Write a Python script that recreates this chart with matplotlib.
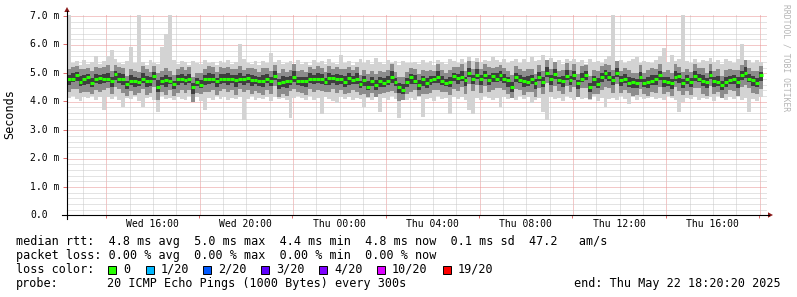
import numpy as np
import matplotlib
matplotlib.use("Agg")
import matplotlib.pyplot as plt
from matplotlib.patches import Polygon, Rectangle
from matplotlib.lines import Line2D
import matplotlib.transforms as mtransforms

# smokeping style latency graph, 10 minute steps from Wed 12:20 to Thu 18:10
# all latency values below are in 1/100 ms
step_start = 12 + 20 / 60      # hours since Wed 00:00
step_len = 1 / 6               # 10 minutes

med_c = [
    477, 480, 492, 469, 477, 486, 463, 480, 481, 480,
    480, 473, 495, 480, 479, 461, 472, 470, 469, 480,
    472, 473, 488, 452, 473, 474, 473, 461, 477, 478,
    476, 477, 449, 469, 457, 478, 478, 480, 472, 479,
    480, 479, 479, 475, 477, 477, 482, 475, 475, 473,
    473, 480, 473, 489, 463, 469, 473, 473, 486, 472,
    470, 473, 480, 480, 480, 480, 469, 482, 482, 477,
    477, 469, 482, 475, 480, 461, 475, 452, 473, 457,
    473, 463, 473, 486, 469, 449, 440, 469, 486, 473,
    457, 477, 463, 475, 477, 486, 473, 466, 469, 488,
    482, 486, 475, 500, 480, 492, 480, 492, 475, 488,
    480, 492, 480, 475, 449, 486, 475, 473, 469, 480,
    466, 486, 469, 500, 480, 495, 475, 472, 488, 475,
    492, 463, 480, 492, 449, 477, 461, 486, 500, 486,
    475, 498, 475, 480, 463, 469, 463, 486, 466, 469,
    472, 480, 492, 473, 469, 463, 486, 488, 463, 480,
    469, 488, 480, 472, 469, 492, 473, 469, 457, 469,
    475, 480, 469, 492, 500, 480, 475, 466, 492,
]

# half widths of the dark smoke core (above / below the median)
q_up = [
    14, 18, 12, 20, 15, 11, 19, 16, 13, 17, 21, 14, 12, 18, 16, 10, 19, 15, 13, 20,
    17, 12, 15, 22, 13, 18, 14, 11, 16, 19, 13, 20, 15, 12, 18, 14, 21, 16, 11, 17,
    15, 19, 13, 16, 22, 12, 14, 18, 15, 11, 20, 16, 13, 17, 14, 19, 12, 15, 21, 13,
    16, 11, 18, 14, 20, 15, 13, 17, 12, 19, 14, 21, 16, 13, 18, 11, 15, 20, 14, 17,
    12, 18, 15, 19, 13, 16, 22, 14, 11, 18, 17, 13, 20, 15, 12, 19, 16, 14, 18, 13,
    15, 20, 12, 17, 14, 21, 13, 16, 19, 11, 18, 14, 16, 12, 20, 15, 17, 13, 19, 14,
    11, 17, 15, 20, 13, 18, 12, 16, 21, 14, 16, 12, 19, 14, 17, 13, 20, 15, 11, 18,
    14, 19, 13, 16, 22, 12, 15, 18, 14, 17, 20, 13, 16, 11, 18, 15, 19, 12, 17, 14,
    13, 18, 15, 20, 12, 16, 14, 19, 13, 17, 15, 11, 18, 14, 20, 16, 13, 17, 12,
]
q_dn = [
    18, 13, 22, 15, 19, 24, 14, 17, 20, 16, 12, 21, 19, 15, 23, 17, 13, 20, 16, 14,
    22, 18, 14, 19, 16, 25, 13, 17, 21, 15, 19, 14, 23, 16, 12, 20, 18, 15, 22, 17,
    14, 20, 16, 24, 13, 19, 17, 21, 15, 18, 23, 15, 19, 13, 21, 17, 25, 14, 18, 16,
    17, 22, 14, 20, 15, 19, 13, 23, 16, 21, 15, 18, 24, 13, 20, 16, 22, 14, 19, 17,
    21, 13, 17, 22, 15, 20, 14, 18, 24, 12, 16, 23, 15, 19, 14, 21, 17, 13, 20, 18,
    20, 14, 22, 16, 19, 13, 24, 15, 17, 21, 13, 19, 16, 23, 15, 18, 12, 22, 14, 20,
    24, 16, 19, 14, 21, 17, 15, 20, 13, 18, 17, 21, 13, 18, 16, 24, 14, 19, 22, 15,
    19, 14, 20, 17, 13, 22, 16, 18, 15, 23, 15, 22, 17, 21, 14, 19, 13, 24, 16, 18,
    20, 16, 13, 19, 23, 15, 21, 14, 18, 17, 14, 19, 22, 16, 18, 13, 20, 15, 21,
]
# half widths of the middle grey smoke band
p_up = [
    38, 42, 33, 45, 36, 31, 44, 39, 35, 41, 46, 34, 32, 40, 37, 29, 43, 36, 33, 45,
    40, 31, 37, 47, 34, 42, 35, 30, 38, 44, 33, 45, 36, 31, 41, 35, 46, 39, 30, 40,
    36, 43, 34, 38, 48, 32, 35, 42, 37, 30, 45, 38, 33, 40, 35, 44, 31, 37, 46, 34,
    39, 30, 42, 35, 45, 37, 33, 41, 32, 44, 35, 46, 38, 34, 42, 30, 36, 45, 35, 40,
    32, 41, 37, 44, 33, 38, 47, 35, 30, 42, 40, 34, 45, 36, 31, 44, 38, 35, 42, 33,
    37, 45, 32, 40, 35, 46, 33, 38, 44, 30, 42, 35, 38, 31, 45, 37, 40, 33, 44, 35,
    30, 40, 37, 45, 33, 42, 31, 38, 46, 35, 38, 32, 44, 35, 40, 33, 45, 37, 30, 42,
    35, 44, 33, 38, 47, 31, 37, 42, 35, 40, 45, 33, 38, 30, 42, 37, 44, 31, 40, 35,
    33, 42, 37, 45, 31, 38, 35, 44, 33, 40, 37, 30, 42, 35, 45, 38, 33, 40, 31,
]
p_dn = [
    44, 36, 50, 39, 45, 52, 37, 42, 47, 40, 34, 49, 45, 38, 51, 42, 35, 47, 40, 36,
    50, 44, 37, 46, 40, 53, 35, 42, 48, 39, 46, 37, 51, 40, 33, 47, 44, 39, 50, 42,
    37, 47, 40, 52, 35, 45, 42, 49, 38, 44, 51, 39, 46, 35, 48, 42, 53, 37, 44, 40,
    42, 50, 37, 47, 39, 45, 35, 51, 40, 48, 39, 44, 52, 35, 47, 40, 50, 37, 45, 42,
    48, 35, 42, 50, 39, 47, 37, 44, 52, 34, 40, 51, 39, 45, 37, 48, 42, 35, 47, 44,
    47, 37, 50, 40, 45, 35, 52, 39, 42, 48, 35, 45, 40, 51, 39, 44, 34, 50, 37, 47,
    52, 40, 45, 37, 48, 42, 39, 47, 35, 44, 42, 48, 35, 44, 40, 52, 37, 45, 50, 39,
    45, 37, 47, 42, 35, 50, 40, 44, 39, 51, 39, 50, 42, 48, 37, 45, 35, 52, 40, 44,
    47, 40, 35, 45, 51, 39, 48, 37, 44, 42, 37, 45, 50, 40, 44, 35, 47, 39, 48,
]
# slowest and fastest ping of each step
hi_c = [
    750, 535, 540, 528, 545, 532, 538, 560, 530, 542,
    560, 580, 548, 535, 530, 541, 590, 533, 750, 538,
    529, 544, 536, 531, 590, 635, 750, 545, 532, 540,
    537, 528, 543, 535, 530, 546, 533, 539, 527, 541,
    534, 545, 530, 538, 603, 548, 536, 531, 542, 529,
    540, 533, 571, 537, 544, 530, 535, 541, 528, 546,
    532, 539, 527, 545, 534, 540, 531, 548, 536, 530,
    563, 535, 541, 529, 538, 548, 533, 544, 530, 552,
    537, 531, 546, 534, 540, 528, 542, 536, 533, 539,
    530, 545, 535, 541, 529, 545, 538, 532, 547, 540,
    536, 548, 533, 555, 540, 552, 537, 546, 541, 556,
    544, 538, 550, 534, 542, 547, 535, 549, 539, 556,
    540, 545, 563, 538, 551, 536, 545, 530, 548, 541,
    550, 537, 544, 532, 547, 539, 543, 535, 548, 560,
    750, 538, 545, 533, 541, 550, 556, 536, 542, 539,
    534, 545, 560, 586, 538, 563, 540, 547, 750, 542,
    536, 549, 533, 544, 540, 551, 537, 545, 532, 548,
    541, 535, 547, 603, 539, 544, 536, 545, 538,
]
lo_c = [
    412, 418, 408, 400, 415, 410, 420, 406, 414, 369,
    416, 409, 419, 404, 380, 413, 408, 417, 402, 380,
    411, 415, 405, 363, 418, 407, 412, 403, 416, 409,
    404, 417, 410, 414, 401, 369, 413, 406, 419, 408,
    415, 403, 411, 407, 416, 334, 409, 418, 404, 412,
    407, 414, 402, 416, 409, 413, 405, 340, 411, 417,
    410, 403, 418, 406, 412, 357, 415, 408, 401, 395,
    414, 409, 416, 403, 411, 407, 380, 413, 405, 417,
    363, 412, 404, 418, 408, 340, 415, 406, 411, 403,
    416, 346, 409, 413, 402, 417, 407, 411, 357, 414,
    408, 415, 403, 369, 357, 412, 406, 418, 410, 404,
    413, 380, 416, 407, 411, 403, 417, 409, 414, 395,
    406, 412, 363, 334, 415, 408, 413, 402, 417, 410,
    404, 416, 409, 413, 406, 418, 401, 411, 380, 407,
    412, 405, 417, 409, 392, 414, 403, 416, 408, 411,
    415, 407, 412, 404, 418, 410, 406, 363, 397, 413,
    409, 416, 403, 411, 407, 415, 402, 418, 410, 405,
    414, 408, 417, 403, 412, 363, 409, 400, 415,
]

label_hours = [16, 20, 24, 28, 32, 36, 40]
label_text = ["Wed 16:00", "Wed 20:00", "Thu 00:00", "Thu 04:00",
              "Thu 08:00", "Thu 12:00", "Thu 16:00"]
major_hours = [14, 18, 22, 26, 30, 34, 38, 42]
ytick_vals = [0, 1, 2, 3, 4, 5, 6, 7]
ytick_text = ["0.0", "1.0 m", "2.0 m", "3.0 m", "4.0 m", "5.0 m", "6.0 m", "7.0 m"]

rtt_line = "median rtt:  4.8 ms avg  5.0 ms max  4.4 ms min  4.8 ms now  0.1 ms sd  47.2   am/s"
loss_line = "packet loss: 0.00 % avg  0.00 % max  0.00 % min  0.00 % now"
loss_labels = ["0", "1/20", "2/20", "3/20", "4/20", "10/20", "19/20"]
loss_colors = ["#26ff00", "#00b8ff", "#0059ff", "#5e00ff", "#7e00ff", "#dd00ff", "#ff0000"]
probe_text = "20 ICMP Echo Pings (1000 Bytes) every 300s"
end_text = "end: Thu May 22 18:20:20 2025"

W, H = 797, 297
MONO = "DejaVu Sans Mono"


def fx(px):
    return px / W


def fy(py):
    return 1 - py / H


med = np.array(med_c) / 100
hi = np.array(hi_c) / 100
lo = np.array(lo_c) / 100
q_top = med + np.array(q_up) / 100
q_bot = med - np.array(q_dn) / 100
p_top = med + np.array(p_up) / 100
p_bot = med - np.array(p_dn) / 100
edges = step_start + np.arange(len(med) + 1) * step_len

x_start = 12 + 20 / 60 + 20 / 3600
x_end = x_start + 30

fig = plt.figure(figsize=(W / 100, H / 100), dpi=100)
fig.patch.set_facecolor("white")
ax = fig.add_axes([fx(67), fy(215), fx(767) - fx(67), (215 - 15) / H])
ax.set_xlim(x_start, x_end)
ax.set_ylim(0, 7 + 1 / 28.43)
for s in ax.spines.values():
    s.set_visible(False)

# grid: 1px dotted lines snapped to the pixel raster, under the smoke
pix = mtransforms.IdentityTransform()
dots = (0, (1, 1))
minor_col = "#c8c8c8"
major_col = "#e99393"
gx0, gy0 = ax.transData.transform((x_start, 0))
gx1, gy1 = ax.transData.transform((x_end, 7))
gx0, gy0, gx1, gy1 = round(gx0), round(gy0), round(gx1), round(gy1) + 2
for h in range(13, 43):
    c = major_col if h in major_hours else minor_col
    px = np.floor(ax.transData.transform((h, 0))[0]) + 0.5
    ax.add_line(Line2D([px, px], [gy0, gy1], transform=pix, color=c, lw=0.72,
                       ls=dots, zorder=0.5))
for v in np.arange(1, 36) * 0.2:
    c = major_col if abs(v - round(v)) < 1e-6 else minor_col
    py = np.floor(ax.transData.transform((x_start, v))[1]) + 0.5
    ax.add_line(Line2D([gx0, gx1], [py, py], transform=pix, color=c, lw=0.72,
                       ls=dots, zorder=0.5))

# smoke
ax.stairs(hi, edges, baseline=lo, fill=True, color="#d3d3d3", lw=0, zorder=1)
ax.stairs(p_top, edges, baseline=p_bot, fill=True, color="#8c8c8c", lw=0, zorder=2)
ax.stairs(q_top, edges, baseline=q_bot, fill=True, color="#3e3e3e", lw=0, zorder=3)
ax.hlines(med, edges[:-1], edges[1:], color=loss_colors[0], lw=2.2, zorder=4)

ax.set_xticks(label_hours, label_text, fontsize=7, family=MONO)
ax.set_xticks(major_hours, minor=True)
ax.tick_params(axis="x", which="major", length=0, pad=3.2)
ax.tick_params(axis="x", which="minor", length=2, width=0.72, color="#e07070")
ax.set_yticks(ytick_vals, [""] * len(ytick_vals))
ax.tick_params(axis="y", which="major", length=3, width=0.72, color="#e07070")

ytrans = mtransforms.blended_transform_factory(fig.transFigure, ax.transData)
for v, t in zip(ytick_vals, ytick_text):
    fig.text(fx(30), v, t, transform=ytrans, ha="left", va="center",
             fontsize=7, family=MONO, color="black")

# axes with arrows
fig.add_artist(Line2D([fx(62), fx(769)], [fy(215), fy(215)], color="black", lw=0.8))
fig.add_artist(Line2D([fx(67), fx(67)], [fy(219), fy(11)], color="black", lw=0.8))
arrow_col = "#8b1a1a"
fig.add_artist(Polygon([[fx(773), fy(215)], [fx(768), fy(212.3)], [fx(768), fy(217.7)]],
                       closed=True, color=arrow_col, lw=0))
fig.add_artist(Polygon([[fx(67), fy(7)], [fx(64.3), fy(12)], [fx(69.7), fy(12)]],
                       closed=True, color=arrow_col, lw=0))

fig.text(fx(10), fy(114), "Seconds", rotation=90, ha="center", va="center",
         fontsize=8.5, family=MONO)
fig.text(fx(786), fy(4), "RRDTOOL / TOBI OETIKER", rotation=-90, ha="center", va="top",
         fontsize=5.8, family=MONO, color="#b4b4b4")

# legend block
fs = 8.5
fig.text(fx(16), fy(241.5), rtt_line, ha="left", va="center", fontsize=fs, family=MONO)
fig.text(fx(16), fy(255.5), loss_line, ha="left", va="center", fontsize=fs, family=MONO)
fig.text(fx(16), fy(269.3), "loss color:", ha="left", va="center", fontsize=fs, family=MONO)
box_x = [108, 146, 203, 261, 319, 377, 443]
for bx, lab, col in zip(box_x, loss_labels, loss_colors):
    fig.add_artist(Rectangle((fx(bx), fy(273.5)), fx(8), 8 / H, facecolor=col,
                             edgecolor="black", lw=0.7))
    fig.text(fx(bx + 15), fy(269.3), lab, ha="left", va="center", fontsize=fs, family=MONO)
fig.text(fx(16), fy(283.3), "probe:", ha="left", va="center", fontsize=fs, family=MONO)
fig.text(fx(107), fy(283.3), probe_text, ha="left", va="center", fontsize=fs, family=MONO)
fig.text(fx(781), fy(283.3), end_text, ha="right", va="center", fontsize=fs, family=MONO)

fig.savefig("out.png", dpi=100, facecolor="white")
